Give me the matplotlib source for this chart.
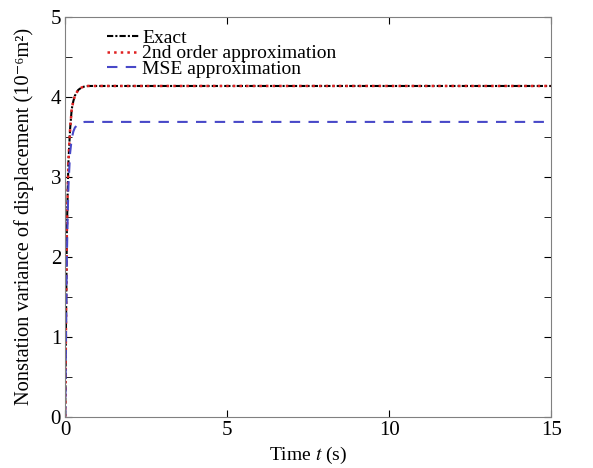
import numpy as np
from matplotlib import pyplot as plt
from matplotlib.ticker import MultipleLocator

plt.rcParams['font.family'] = ['Liberation Serif', 'DejaVu Serif']
plt.rcParams['mathtext.fontset'] = 'stix'

# values
t = [0, 0.02, 0.05, 0.08, 0.1, 0.15, 0.2, 0.25, 0.3, 0.4, 0.5, 0.6, 0.7, 0.8, 1.0, 2, 5, 10, 15]
exact = [0, 1.0, 2.3, 2.9, 3.2, 3.6, 3.85, 3.95, 4.02, 4.09, 4.12, 4.135, 4.14, 4.14, 4.14, 4.14, 4.14, 4.14, 4.14]
second = [0, 1.0, 2.3, 2.9, 3.2, 3.6, 3.85, 3.95, 4.02, 4.09, 4.12, 4.135, 4.14, 4.14, 4.14, 4.14, 4.14, 4.14, 4.14]
mse = [0, 0.8, 2.0, 2.6, 2.9, 3.3, 3.48, 3.57, 3.62, 3.66, 3.68, 3.69, 3.69, 3.69, 3.69, 3.69, 3.69, 3.69, 3.69]

fig = plt.figure(figsize=(5.93, 4.68), dpi=100)
ax = fig.add_axes([0.11, 0.11, 0.82, 0.853])
s = 14

ax.plot(t, exact, '-.', color='black', lw=1.5, dashes=(3, 1, 1, 1), label='Exact')
ax.plot(t, second, ':', color='#e02020', lw=1.8, label='2nd order approximation')
ax.plot(t, mse, '--', color='#4848c8', lw=1.5, dashes=(5, 4), label='MSE approximation')

ax.set_xlim(0, 15)
ax.set_ylim(0, 5)
ax.set_xticks([0, 5, 10, 15])
ax.yaxis.set_major_locator(MultipleLocator(1))
ax.yaxis.set_minor_locator(MultipleLocator(0.5))
ax.tick_params(which='both', direction='in', top=True, right=True, labelsize=s + 1, pad=3)
ax.tick_params(which='major', length=5)
ax.tick_params(which='minor', length=5)
for sp in ax.spines.values():
    sp.set_color('#808080')

ax.set_xlabel('Time $\\it{t}$ (s)', size=s, labelpad=4)
ax.set_ylabel('Nonstation variance of displacement (10\u207b\u2076m\u00b2)', size=s + 0.7, labelpad=12)

ax.legend(loc='upper left', bbox_to_anchor=(0.07, 0.99), frameon=False, fontsize=s,
          handlelength=1.7, handletextpad=0.1, labelspacing=-0.1, borderaxespad=0)

plt.savefig('out.png', dpi=100)
